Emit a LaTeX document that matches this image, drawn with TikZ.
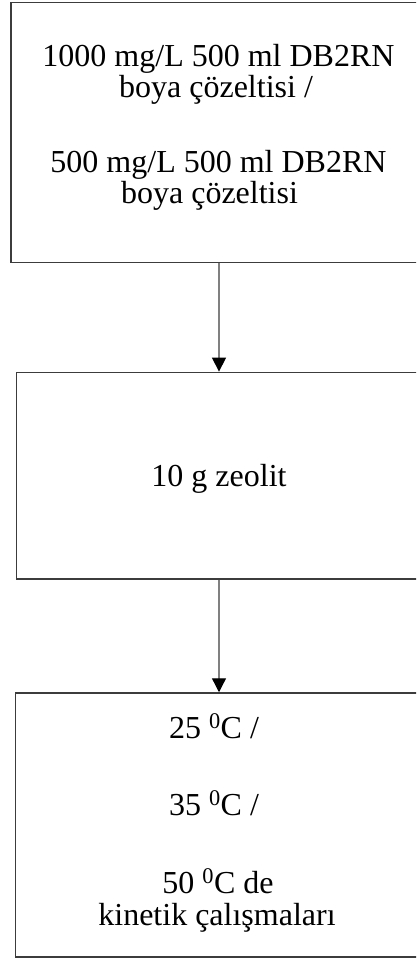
\documentclass[tikz,border=0pt]{standalone}
\usepackage{fontspec}
\setmainfont{Liberation Serif}
\usetikzlibrary{arrows.meta}
\definecolor{edgegray}{HTML}{3C3C3C}
\definecolor{shaftgray}{HTML}{808080}
\begin{document}
\begin{tikzpicture}[x=1pt,y=-1pt,
  box/.style={draw=edgegray,line width=1.5pt,minimum width=#1,inner sep=0pt},
  txt/.style={anchor=base,inner sep=0pt,font=\fontsize{32}{38}\selectfont},
  flow/.style={draw=shaftgray,line width=1.3pt,
    -{Triangle[width=14pt,length=14pt,color=black,fill=black]}}]
\useasboundingbox (0,0) rectangle (416,960);
\clip (0,0) rectangle (416,960);
\fill[white] (0,0) rectangle (416,960);

% three process boxes (right sides run past the page edge)
\node[box=416pt,minimum height=260pt] (b1) at (219,132.6) {};
\node[box=405pt,minimum height=206.7pt] (b2) at (219,475.7) {};
\node[box=406.6pt,minimum height=264pt] (b3) at (219,825) {};

% texts of the first box
\node[txt] (t11) at (218.5,66.7) {1000 mg/L 500 ml DB2RN};
\node[txt] (t12) at (216,98) {boya çözeltisi /};
\node[txt] (t13) at (218.5,172) {500 mg/L 500 ml DB2RN};
\node[txt] (t14) at (209.5,204) {boya çözeltisi};

% text of the second box
\node[txt] (t21) at (219,486) {10 g zeolit};

% texts of the third box
\node[txt] (t31) at (214,738) {25 \textsuperscript{0}C /};
\node[txt] (t32) at (214,815) {35 \textsuperscript{0}C /};
\node[txt] (t33) at (218,893) {50 \textsuperscript{0}C de};
\node[txt] (t34) at (217,925) {kinetik çalışmaları};

% connectors
\draw[flow] (b1.south) -- (b2.north);
\draw[flow] (b2.south) -- (b3.north);
\end{tikzpicture}
\end{document}
